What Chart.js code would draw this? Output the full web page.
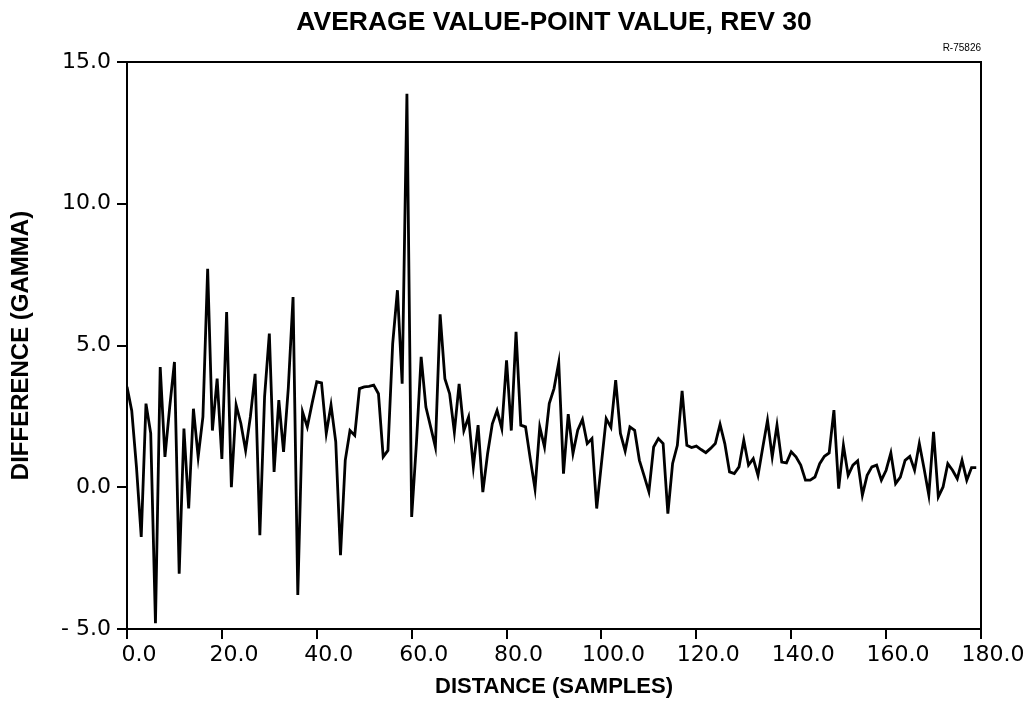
<!DOCTYPE html>
<html>
<head>
<meta charset="utf-8">
<script src="https://cdn.jsdelivr.net/npm/chart.js@4/dist/chart.umd.min.js"></script>
<style>
  html, body { margin: 0; padding: 0; background: #ffffff; }
  #wrap { width: 1023px; height: 703px; position: relative; }
</style>
</head>
<body>
<div id="wrap"><canvas id="c" width="1023" height="703"></canvas></div>
<script>
// ---- data ----
const chartTitle = 'AVERAGE VALUE-POINT VALUE, REV 30';
const refCode = 'R-75826';
const xAxisTitle = 'DISTANCE (SAMPLES)';
const yAxisTitle = 'DIFFERENCE (GAMMA)';

const xTickLabels = ['0.0','20.0','40.0','60.0','80.0','100.0','120.0','140.0','160.0','180.0'];
const yTickLabels = ['- 5.0','0.0','5.0','10.0','15.0'];

const samples = [
  0,1,2,3,4,5,6,7,8,9,10,11,12,13,14,15,16,17,18,19,
  20,21,22,23,24,25,26,27,28,29,30,31,32,33,34,35,36,37,38,39,
  40,41,42,43,44,45,46,47,48,49,50,51,52,53,54,55,56,57,58,59,
  60,61,62,63,64,65,66,67,68,69,70,71,72,73,74,75,76,77,78,79,
  80,81,82,83,84,85,86,87,88,89,90,91,92,93,94,95,96,97,98,99,
  100,101,102,103,104,105,106,107,108,109,110,111,112,113,114,115,116,117,118,119,
  120,121,122,123,124,125,126,127,128,129,130,131,132,133,134,135,136,137,138,139,
  140,141,142,143,144,145,146,147,148,149,150,151,152,153,154,155,156,157,158,159,
  160,161,162,163,164,165,166,167,168,169,170,171,172,173,174,175,176,177,178,179
];

const difference = [
  3.54,2.70,0.70,-1.75,2.95,1.90,-4.80,4.24,1.07,2.83,4.42,-3.05,2.07,-0.75,2.77,1.07,2.48,7.71,2.00,3.83,
  1.00,6.18,0.00,2.90,2.25,1.30,2.48,4.00,-1.69,3.20,5.42,0.54,3.07,1.25,3.50,6.71,-3.80,2.66,2.13,2.95,
  3.72,3.68,1.90,2.90,1.60,-2.40,0.95,2.00,1.83,3.48,3.54,3.56,3.60,3.30,1.07,1.30,5.07,6.95,3.65,13.88,
  -1.05,1.54,4.60,2.83,2.13,1.42,6.10,3.83,3.30,1.95,3.65,2.00,2.48,0.72,2.19,-0.17,1.18,2.24,2.71,2.07,
  4.48,2.00,5.48,2.19,2.13,1.00,-0.06,2.13,1.42,2.95,3.48,4.40,0.48,2.58,1.19,2.01,2.39,1.54,1.72,-0.75,
  0.84,2.42,2.11,3.78,1.90,1.28,2.13,2.01,0.95,0.40,-0.16,1.42,1.72,1.54,-0.93,0.84,1.48,3.40,1.48,1.40,
  1.45,1.33,1.22,1.37,1.54,2.22,1.54,0.54,0.48,0.72,1.66,0.78,1.01,0.42,1.40,2.36,1.07,2.19,0.89,0.86,
  1.25,1.07,0.78,0.25,0.25,0.36,0.83,1.09,1.21,2.72,-0.05,1.48,0.42,0.78,0.93,-0.28,0.42,0.72,0.78,0.25,
  0.60,1.21,0.13,0.36,0.95,1.09,0.60,1.54,0.66,-0.28,1.95,-0.34,0.01,0.83,0.60,0.30,0.95,0.25,0.69,0.69
];

const points = samples.map((s, i) => ({ x: s, y: difference[i] }));

// frame: top and right border of the plot box
const framePlugin = {
  id: 'frame',
  afterDatasetsDraw(chart) {
    const { ctx, chartArea: a } = chart;
    ctx.save();
    ctx.strokeStyle = '#000';
    ctx.lineWidth = 2;
    ctx.beginPath();
    ctx.moveTo(a.left, a.top);
    ctx.lineTo(a.right, a.top);
    ctx.lineTo(a.right, a.bottom);
    ctx.stroke();
    ctx.restore();
  }
};

new Chart(document.getElementById('c'), {
  type: 'line',
  data: {
    datasets: [{
      data: points,
      borderColor: '#000',
      borderWidth: 2.8,
      pointRadius: 0,
      tension: 0,
      fill: false
    }]
  },
  plugins: [framePlugin],
  options: {
    responsive: false,
    animation: false,
    layout: { padding: { left: 0, right: 42, top: 0, bottom: 0 } },
    plugins: {
      legend: { display: false },
      tooltip: { enabled: false },
      title: {
        display: true,
        text: chartTitle,
        fullSize: false,
        color: '#000',
        font: { family: 'Liberation Sans', size: 26.5, weight: 'bold' },
        padding: { top: 7, bottom: 3.2 }
      },
      subtitle: {
        display: true,
        text: refCode,
        fullSize: false,
        align: 'end',
        color: '#000',
        font: { family: 'Liberation Sans', size: 10 },
        padding: { top: 0, bottom: 8 }
      }
    },
    scales: {
      x: {
        type: 'linear',
        min: 0,
        max: 180,
        afterFit(scale) { scale.height = 74; },
        border: { display: true, color: '#000', width: 2 },
        grid: { display: true, drawOnChartArea: false, drawTicks: true, tickLength: 10, color: '#000', lineWidth: 2 },
        ticks: {
          stepSize: 20,
          color: '#000',
          padding: 3,
          maxRotation: 0,
          labelOffset: 12,
          font: { family: 'DejaVu Sans', size: 22 },
          callback: (v, i) => xTickLabels[i]
        },
        title: {
          display: true,
          text: xAxisTitle,
          color: '#000',
          font: { family: 'Liberation Sans', size: 22, weight: 'bold' },
          padding: { top: 0, bottom: 3 }
        }
      },
      y: {
        type: 'linear',
        min: -5,
        max: 15,
        afterFit(scale) { scale.width = 127; },
        border: { display: true, color: '#000', width: 2 },
        grid: { display: true, drawOnChartArea: false, drawTicks: true, tickLength: 10, color: '#000', lineWidth: 2 },
        ticks: {
          stepSize: 5,
          color: '#000',
          padding: 6,
          font: { family: 'DejaVu Sans', size: 22 },
          callback: (v, i) => yTickLabels[i]
        },
        title: {
          display: true,
          text: yAxisTitle,
          color: '#000',
          font: { family: 'Liberation Sans', size: 24, weight: 'bold' },
          padding: { top: 7, bottom: 0 }
        }
      }
    }
  }
});
</script>
</body>
</html>
